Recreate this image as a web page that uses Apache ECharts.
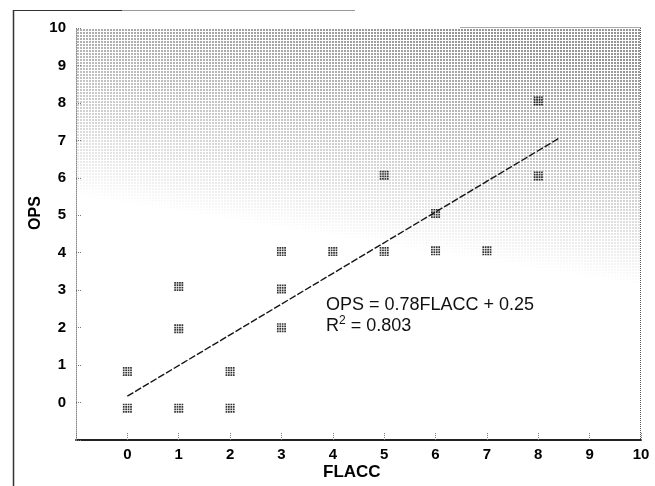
<!DOCTYPE html>
<html>
<head>
<meta charset="utf-8">
<script src="https://cdn.jsdelivr.net/npm/echarts@6/dist/echarts.min.js"></script>
<style>
html,body{margin:0;padding:0;background:#fff;}
#chart{width:655px;height:486px;}
</style>
</head>
<body>
<div id="chart"></div>
<script>
// ---- data ----
const flacc = [0, 0, 1, 1, 1, 2, 2, 3, 3, 3, 4, 5, 5, 6, 6, 7, 8, 8];
const ops   = [-0.15, 0.83, -0.15, 1.97, 3.1, 0.83, -0.15, 2.0, 3.03, 4.03, 4.03, 4.03, 6.07, 5.05, 4.05, 4.05, 8.05, 6.05];
const fitX  = [0, 8.42];
const fitY  = [0.17, 7.07];
const xTicks = ['0','1','2','3','4','5','6','7','8','9','10'];
const yTicks = ['0','1','2','3','4','5','6','7','8','9','10'];
const eqText = 'OPS = 0.78FLACC + 0.25';
const r2Text = '0.803';

const FONT = 'Liberation Sans, Arial, Helvetica, sans-serif';

// halftone background (decoration)
function makeHalftone(){
  const c = document.createElement('canvas');
  c.width = 655; c.height = 486;
  const ctx = c.getContext('2d');
  // zero-density line through (76,215) and (641,305)
  const dx = 565, dy = 90, len = Math.sqrt(dx * dx + dy * dy);
  for (let y = 29; y < 440; y += 3) {
    for (let x = 77; x < 640; x += 3) {
      const s = ((x - 76) * dy + (215 - y) * dx) / len;
      let f = (s - 20) / 220;
      if (f <= 0) continue;
      if (f > 1) f = 1;
      f = Math.pow(f, 0.9);
      ctx.fillStyle = 'rgba(0,0,0,' + (0.42 * f).toFixed(3) + ')';
      ctx.fillRect(x, y, 2, 2);
    }
  }
  return c;
}

// marker: 4x4 cluster of dots
let dotPath = 'path://';
for (let r = 0; r < 4; r++) for (let c = 0; c < 4; c++) {
  dotPath += 'M' + (2 * c) + ',' + (2 * r) + 'h1.4v1.4h-1.4z';
}

const chart = echarts.init(document.getElementById('chart'), null, {renderer: 'canvas'});
const pts = flacc.map((v, i) => [v, ops[i]]);
const fit = fitX.map((v, i) => [v, fitY[i]]);

chart.setOption({
  animation: false,
  backgroundColor: '#ffffff',
  grid: {left: 76, right: 14, top: 28, bottom: 46, show: false},
  xAxis: {
    type: 'value', min: -1, max: 10, interval: 1,
    axisLine: {show: true, onZero: false, lineStyle: {color: '#222', width: 2}},
    axisTick: {show: true, inside: true, length: 8, lineStyle: {color: '#777', type: 'dotted', width: 1}},
    splitLine: {show: false},
    axisLabel: {
      margin: 7, color: '#000', fontFamily: FONT, fontWeight: 'bold', fontSize: 15,
      formatter: v => (v >= 0 ? xTicks[v] : '')
    }
  },
  yAxis: {
    type: 'value', min: -1, max: 10, interval: 1,
    axisLine: {show: true, onZero: false, lineStyle: {color: '#888', width: 1, type: 'dotted'}},
    axisTick: {show: true, inside: true, length: 6, lineStyle: {color: '#777', type: 'dotted', width: 1}},
    splitLine: {show: false},
    axisLabel: {
      margin: 10, color: '#000', fontFamily: FONT, fontWeight: 'bold', fontSize: 15,
      formatter: v => (v >= 0 ? yTicks[v] : '')
    }
  },
  graphic: [
    {type: 'image', z: -100, silent: true, x: 0, y: 0, style: {image: makeHalftone(), x: 0, y: 0, width: 655, height: 486}},
    {type: 'line', silent: true, shape: {x1: 13.5, y1: 10, x2: 13.5, y2: 486}, style: {stroke: '#333', lineWidth: 1.5}},
    {type: 'line', silent: true, shape: {x1: 13, y1: 10.5, x2: 122, y2: 10.5}, style: {stroke: '#333', lineWidth: 1.2}},
    {type: 'line', silent: true, shape: {x1: 122, y1: 10.5, x2: 355, y2: 10.5}, style: {stroke: '#999', lineWidth: 1}},
    {type: 'line', silent: true, shape: {x1: 640.5, y1: 28, x2: 640.5, y2: 440}, style: {stroke: '#555', lineWidth: 1, lineDash: [1, 1]}},
    {type: 'line', silent: true, shape: {x1: 460, y1: 27.5, x2: 641, y2: 27.5}, style: {stroke: '#aaa', lineWidth: 1}},
    {type: 'text', left: 326, top: 296, style: {text: eqText, fill: '#111', font: '18px ' + FONT}},
    {type: 'text', left: 326, top: 315, style: {
      text: '{r|R}{s|2}{r| = ' + r2Text + '}', fill: '#111',
      rich: {
        r: {fontSize: 18, fontFamily: FONT, fill: '#111', lineHeight: 20, verticalAlign: 'bottom'},
        s: {fontSize: 12, fontFamily: FONT, fill: '#111', lineHeight: 20, verticalAlign: 'top'}
      }
    }},
    {type: 'text', left: 323, top: 464, style: {text: 'FLACC', fill: '#000', font: 'bold 17px ' + FONT}},
    {type: 'text', x: 36, y: 213, rotation: Math.PI / 2, style: {text: 'OPS', fill: '#000', font: 'bold 16px ' + FONT, align: 'center', verticalAlign: 'middle'}}
  ],
  series: [
    {
      type: 'line', data: fit, showSymbol: false, symbol: 'none', z: 3,
      lineStyle: {color: '#151515', width: 1.4, type: [7, 2]}
    },
    {
      type: 'scatter', data: pts, symbol: dotPath, symbolSize: [9, 9], z: 4,
      itemStyle: {color: '#000'}
    }
  ]
});
</script>
</body>
</html>
